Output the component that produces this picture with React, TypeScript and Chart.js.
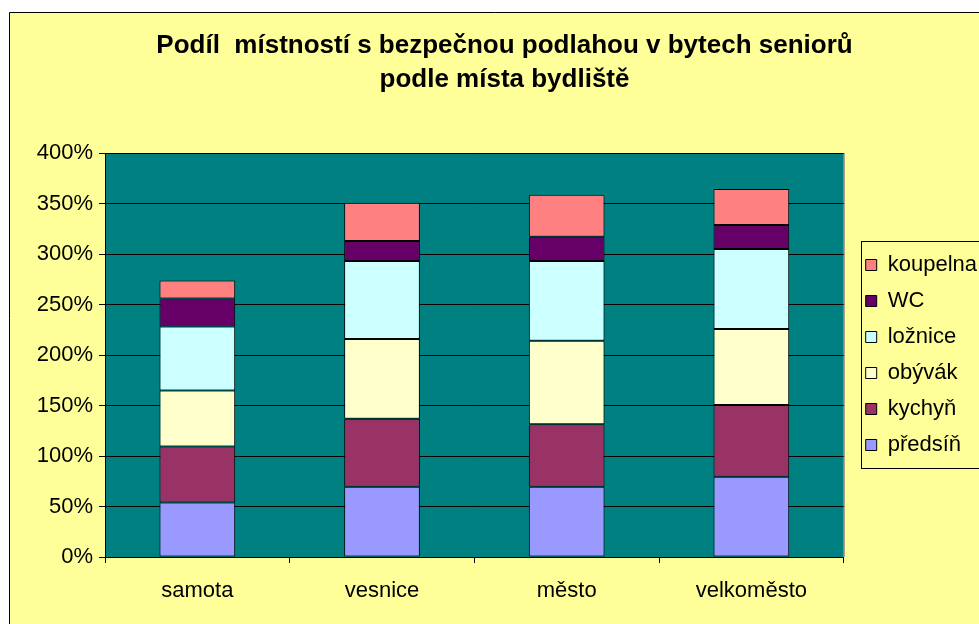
import React, { useEffect, useRef } from "react";
import { Chart, registerables } from "chart.js";

Chart.register(...registerables);

const categories = ["samota", "vesnice", "město", "velkoměsto"];
const predsin = [54, 69.6, 69.6, 79.5];
const kychyn = [55.4, 67.3, 61.8, 71];
const obyvak = [55.5, 78.9, 82.8, 75.2];
const loznice = [63.3, 77.2, 78.8, 79.3];
const wc = [27.8, 19.9, 24.1, 23.7];
const koupelna = [17.8, 37.9, 41.6, 35.7];

const seriesNames = ["předsíň", "kychyň", "obývák", "ložnice", "WC", "koupelna"];
const seriesColors = ["#9999FF", "#993366", "#FFFFCC", "#CCFFFF", "#660066", "#FF8080"];

const titleLines = ["Podíl  místností s bezpečnou podlahou v bytech seniorů", "podle místa bydliště"];
const yMin = 0;
const yMax = 400;
const yStep = 50;

const FONT = "'Liberation Sans', Arial, Helvetica, sans-serif";
const LEGEND_SHIFT = 8;

const bgPlugin = {
  id: "bgPlugin",
  beforeDraw(chart: any) {
    const { ctx, chartArea, width, height } = chart;
    ctx.save();
    ctx.fillStyle = "#FFFFFF";
    ctx.fillRect(0, 0, width, height);
    ctx.fillStyle = "#FFFF99";
    ctx.fillRect(10, 13, width, height);
    ctx.strokeStyle = "#000000";
    ctx.lineWidth = 1;
    ctx.beginPath();
    ctx.moveTo(9.5, height + 5);
    ctx.lineTo(9.5, 12.5);
    ctx.lineTo(width + 5, 12.5);
    ctx.stroke();
    ctx.fillStyle = "#008080";
    ctx.fillRect(chartArea.left, chartArea.top, chartArea.right - chartArea.left, chartArea.bottom - chartArea.top);
    ctx.strokeStyle = "#808080";
    ctx.beginPath();
    ctx.moveTo(chartArea.right + 0.5, chartArea.top);
    ctx.lineTo(chartArea.right + 0.5, chartArea.bottom);
    ctx.stroke();
    ctx.restore();
    if (chart.legend) {
      chart.legend.left += LEGEND_SHIFT;
    }
  },
  afterDraw(chart: any) {
    const lg = chart.legend;
    if (!lg || !lg.legendHitBoxes || !lg.legendHitBoxes.length) return;
    const hb = lg.legendHitBoxes;
    const first = hb[0];
    const last = hb[hb.length - 1];
    const { ctx } = chart;
    ctx.save();
    ctx.strokeStyle = "#000000";
    ctx.lineWidth = 1;
    const x = Math.round(first.left) + LEGEND_SHIFT - 4.5;
    const top = Math.round(first.top) - 12.5;
    const bottom = Math.round(last.top + last.height) + 12.5;
    ctx.strokeRect(x, top, chart.width + 20, bottom - top);
    ctx.restore();
  },
};

export default function App() {
  const ref = useRef<HTMLCanvasElement | null>(null);
  useEffect(() => {
    document.body.style.margin = "0";
    const canvas = ref.current!;
    const datasetsData = [predsin, kychyn, obyvak, loznice, wc, koupelna];
    const chart = new Chart(canvas, {
      type: "bar",
      data: {
        labels: categories,
        datasets: datasetsData.map((d, i) => ({
          label: seriesNames[i],
          data: d,
          backgroundColor: seriesColors[i],
          borderColor: "#000000",
          borderWidth: 1,
          borderSkipped: false,
          barPercentage: 0.41,
          categoryPercentage: 1,
        })),
      },
      options: {
        animation: false,
        responsive: false,
        devicePixelRatio: 1,
        layout: { padding: { left: 30, right: 0, top: 0, bottom: 0 } },
        plugins: {
          title: {
            display: true,
            text: titleLines,
            color: "#000000",
            font: { family: FONT, size: 26, weight: "bold", lineHeight: 34 / 26 },
            padding: { top: 29, bottom: 56 },
          },
          legend: {
            display: true,
            position: "right",
            fullSize: false,
            reverse: true,
            maxWidth: 138,
            labels: {
              boxWidth: 11,
              boxHeight: 11,
              padding: 14,
              color: "#000000",
              font: { family: FONT, size: 22 },
            },
          },
          tooltip: { enabled: false },
        },
        scales: {
          x: {
            stacked: true,
            grid: {
              display: true,
              drawOnChartArea: false,
              drawTicks: true,
              tickLength: 6,
              color: "#000000",
              offset: true,
            },
            border: { display: true, color: "#000000" },
            ticks: { color: "#000000", font: { family: FONT, size: 22 }, padding: 15 },
            afterFit: (s: any) => {
              s.height = 67;
            },
          },
          y: {
            stacked: true,
            min: yMin,
            max: yMax,
            ticks: {
              stepSize: yStep,
              color: "#000000",
              font: { family: FONT, size: 22 },
              padding: 6,
              callback: (v: any) => v + "%",
            },
            grid: { color: "#000000", tickLength: 6, drawTicks: true },
            border: { display: true, color: "#000000" },
            afterFit: (s: any) => {
              s.width = 75;
            },
          },
        },
      },
      plugins: [bgPlugin],
    });
    return () => chart.destroy();
  }, []);
  return <canvas ref={ref} width={979} height={624} style={{ display: "block" }} />;
}
